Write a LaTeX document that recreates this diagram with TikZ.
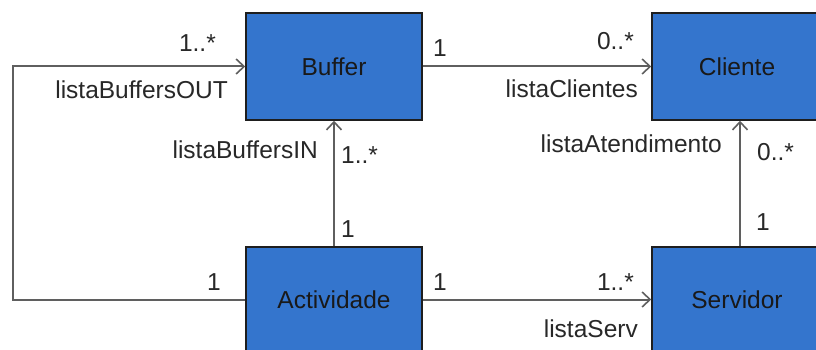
\documentclass[tikz,border=0pt]{standalone}
\usepackage{fontspec}
\setmainfont{Liberation Sans}
\usetikzlibrary{arrows.meta}
\definecolor{boxfill}{RGB}{52,117,205}
\definecolor{boxline}{RGB}{30,30,30}
\definecolor{conn}{RGB}{95,95,95}
\definecolor{lbl}{RGB}{40,40,40}
\begin{document}
\begin{tikzpicture}[x=1pt,y=-1pt,
  classbox/.style={draw=boxline,line width=1.5pt,fill=boxfill,rectangle,inner sep=0pt,
    font=\fontsize{24.5}{28}\selectfont,text=black!90},
  assoc/.style={draw=conn,line width=2pt},
  nav/.style={assoc,-{Straight Barb[length=8pt,width=15pt,line width=1.6pt]}},
  lab/.style={inner sep=0pt,font=\fontsize{24.5}{28}\selectfont,text=lbl}]
\clip (0,0) rectangle (816,350);
\fill[white] (0,0) rectangle (816,350);
% classes
\node[classbox,minimum width=176pt,minimum height=107pt] (buffer) at (334,66.5) {Buffer};
\node[classbox,minimum width=170pt,minimum height=107pt] (cliente) at (737,66.5) {Cliente};
\node[classbox,minimum width=176pt,minimum height=105pt] (activ) at (334,299.5) {Actividade};
\node[classbox,minimum width=170pt,minimum height=105pt] (serv) at (737,299.5) {Servidor};
% corner of the OUT loop
\coordinate (c2) at (13,66.5);
% connectors
\draw[nav] (buffer.east) -- (cliente.west);
\draw[nav] (activ.north) -- (buffer.south);
\draw[nav] ([xshift=3pt]serv.north) -- ([xshift=3pt]cliente.south);
\draw[nav] (activ.east) -- (serv.west);
\draw[nav] (activ.west) -| (c2) -- (buffer.west);
% labels
\node[lab,anchor=base east] (m1) at (216,52) {1..*};
\node[lab,anchor=base east] (r1) at (228,99) {listaBuffersOUT};
\node[lab,anchor=base east] (m2) at (221,290) {1};
\node[lab,anchor=base east] (r2) at (318,158) {listaBuffersIN};
\node[lab,anchor=base west] (m3) at (341,163) {1..*};
\node[lab,anchor=base west] (m4) at (341,237) {1};
\node[lab,anchor=base west] (m5) at (433,57) {1};
\node[lab,anchor=base east] (m6) at (634,50) {0..*};
\node[lab,anchor=base east] (r3) at (638,98) {listaClientes};
\node[lab,anchor=base east] (r4) at (722,153) {listaAtendimento};
\node[lab,anchor=base west] (m7) at (757,160) {0..*};
\node[lab,anchor=base west] (m8) at (756,230) {1};
\node[lab,anchor=base west] (m9) at (433,290) {1};
\node[lab,anchor=base east] (m10) at (634,290) {1..*};
\node[lab,anchor=base east] (r5) at (638,337) {listaServ};
\end{tikzpicture}
\end{document}
